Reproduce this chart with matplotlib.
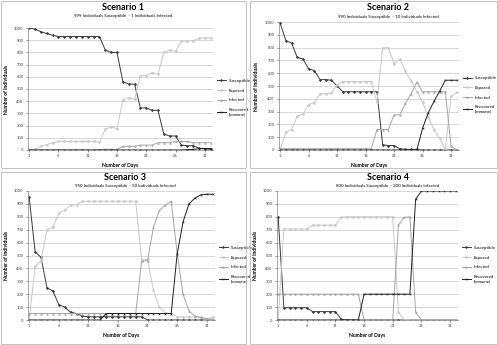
#!/usr/bin/env python3
import matplotlib
matplotlib.use("Agg")
import matplotlib.pyplot as plt
from matplotlib.patches import Rectangle

plt.rcParams["font.family"] = ["Lato", "DejaVu Sans"]

W, H = 498, 345

days = list(range(1, 33))
x_ticks = [1, 6, 11, 16, 21, 26, 31]
y_ticks = list(range(0, 1001, 100))

series_names = ["Susceptible", "Exposed", "Infected", "Recovered\n(Immune)"]

titles = ["Scenario 1", "Scenario 2", "Scenario 3", "Scenario 4"]
subtitles = [
    "999 Individuals Susceptible  - 1 Individuals Infected",
    "990 Individuals Susceptible  - 10 Individuals Infected",
    "950 Individuals Susceptible  - 50 Individuals Infected",
    "800 Individuals Susceptible  - 200 Individuals Infected",
]

# scenario 1
s1_susceptible = [1000, 990, 970, 955, 940, 930, 930, 930, 930, 930, 930, 930, 930,
                  820, 800, 800, 560, 540, 540, 345, 345, 325, 325, 130, 115, 115,
                  40, 35, 35, 15, 10, 5]
s1_exposed = [0, 5, 30, 45, 60, 70, 70, 70, 70, 70, 70, 70, 65,
              170, 190, 175, 410, 430, 415, 610, 610, 635, 620, 800, 820, 810,
              890, 895, 895, 915, 920, 920]
s1_infected = [0, 0, 0, 0, 0, 0, 0, 0, 0, 0, 0, 0, 0,
               5, 5, 5, 30, 30, 30, 40, 40, 40, 60, 60, 60, 70,
               70, 70, 60, 60, 60, 60]
s1_recovered = [0] * 27 + [3, 5, 10, 12, 12]

# scenario 2
s2_susceptible = [990, 855, 835, 725, 710, 635, 620, 550, 550, 545, 500, 455, 455,
                  455, 455, 455, 455, 455, 40, 35, 35, 10, 5, 5, 5,
                  0, 0, 0, 0, 0, 0, 0]
s2_exposed = [0, 140, 160, 265, 280, 355, 370, 440, 440, 445, 510, 535, 535,
              535, 535, 535, 535, 375, 795, 800, 675, 710, 615, 540, 455,
              375, 255, 160, 90, 5, 420, 450]
s2_infected = [10] * 17 + [160, 160, 160, 275, 275, 365, 440, 530,
                           455, 455, 455, 455, 455, 30, 0]
s2_recovered = [0] * 25 + [170, 290, 380, 460, 545, 545, 545]

# scenario 3
s3_susceptible = [950, 530, 485, 250, 225, 120, 100, 60, 50, 30] + [25] * 10 + [0] * 12
s3_exposed = [0, 415, 460, 700, 720, 830, 850, 890, 895] + [920] * 10 + \
             [465, 470, 230, 100, 55, 50, 25, 25, 25, 25, 20, 10, 20]
s3_infected = [50] * 19 + [455, 460, 720, 850, 890, 920, 520, 200, 70, 30, 20, 10, 5]
s3_recovered = [0] * 13 + [50] * 12 + [510, 760, 900, 945, 970, 975, 975]

# scenario 4
s4_susceptible = [800] + [95] * 5 + [65] * 5 + [5] + [0] * 20
s4_exposed = [0] + [705] * 5 + [735] * 5 + [795] + [800] * 9 + [60] + [0] * 10
s4_infected = [200] * 15 + [0] * 6 + [735, 795, 800, 60] + [0] * 7
s4_recovered = [0] * 15 + [200] * 9 + [935] + [1000] * 7

scenarios = [
    [s1_susceptible, s1_exposed, s1_infected, s1_recovered],
    [s2_susceptible, s2_exposed, s2_infected, s2_recovered],
    [s3_susceptible, s3_exposed, s3_infected, s3_recovered],
    [s4_susceptible, s4_exposed, s4_infected, s4_recovered],
]

colors = ["#3a3a3a", "#c8c8c8", "#a4a4a4", "#1e1e1e"]
markers = ["D", "s", "^", "x"]

# plot areas in pixels: left, right, top, bottom
axes_px = [(28, 213, 28, 150), (279, 459, 22, 150),
           (28, 215, 191, 320), (277, 458, 191, 320)]
# panel boxes in pixels: left, top, right, bottom
boxes_px = [(1, 1, 246, 168), (250, 1, 497, 168),
            (1, 172, 246, 344), (250, 172, 497, 344)]
title_px = [(123, 8, 16), (388, 8, 17), (125, 177, 186), (388, 177, 186)]


def fx(px):
    return px / W


def fy(py):
    return 1 - py / H


def main():
    fig = plt.figure(figsize=(W / 100, H / 100), dpi=100)
    fig.patch.set_facecolor("white")

    for i in range(4):
        bl, bt, br, bb = boxes_px[i]
        fig.add_artist(Rectangle((fx(bl), fy(bb)), fx(br - bl), (bb - bt) / H,
                                 transform=fig.transFigure, fill=False,
                                 edgecolor="#b8b8b8", linewidth=0.6))

        l, r, t, b = axes_px[i]
        ax = fig.add_axes([fx(l), fy(b), fx(r - l), (b - t) / H])
        for j in range(4):
            ax.plot(days, scenarios[i][j], color=colors[j], linewidth=0.7,
                    marker=markers[j], markersize=1.2, markeredgewidth=0.4,
                    label=series_names[j])

        ax.set_xlim(0.8, 32.4)
        ax.set_ylim(0, 1000)
        ax.set_xticks(x_ticks)
        ax.set_yticks(y_ticks)
        ax.tick_params(labelsize=3, length=1.2, width=0.4, pad=2,
                       colors="#404040")
        ax.grid(axis="y", color="#c8c8c8", linewidth=0.5)
        ax.set_axisbelow(True)
        for side in ["top", "right"]:
            ax.spines[side].set_visible(False)
        for side in ["left", "bottom"]:
            ax.spines[side].set_color("#868686")
            ax.spines[side].set_linewidth(0.5)

        ax.set_xlabel("Number of Days", fontsize=3.6, fontweight="bold",
                      labelpad=3)
        ax.set_ylabel("Number of Individuals", fontsize=3.6,
                      fontweight="bold", labelpad=4)

        ax.legend(loc="center left", bbox_to_anchor=(1.0, 0.43), frameon=False,
                  fontsize=3.2, handlelength=2.0, labelspacing=1.25,
                  handletextpad=0.6)

        tx, ty, sy = title_px[i]
        fig.text(fx(tx), fy(ty), titles[i], ha="center", va="center",
                 fontsize=6.5, fontweight="bold")
        fig.text(fx(tx), fy(sy), subtitles[i], ha="center", va="center",
                 fontsize=3.2)

    fig.savefig("out.png", dpi=100)
    plt.close(fig)


if __name__ == "__main__":
    main()
